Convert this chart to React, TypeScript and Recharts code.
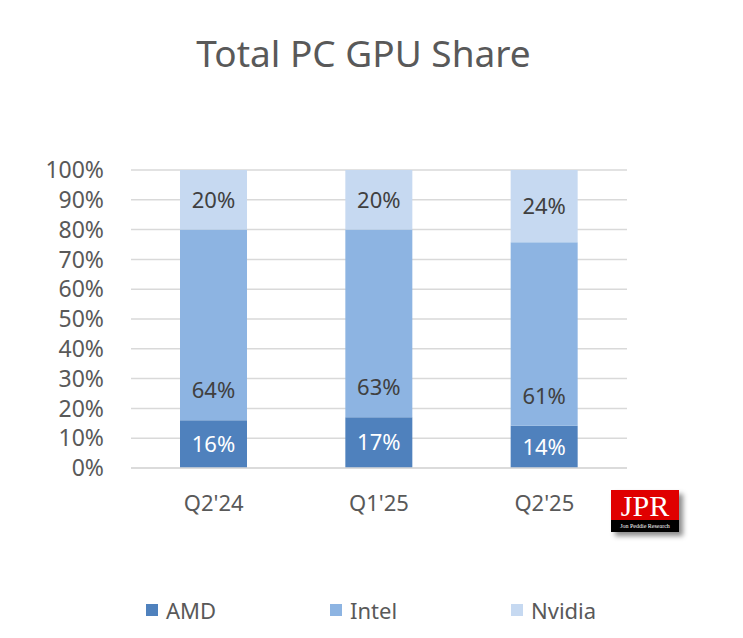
import { BarChart, Bar, XAxis, YAxis, CartesianGrid, Legend, LabelList } from "recharts"

const quarters = ["Q2'24", "Q1'25", "Q2'25"]
const amd = [16, 17, 14]
const intel = [64, 63, 61]
const nvidia = [20, 20, 24]
const yTicks = [0, 0.1, 0.2, 0.3, 0.4, 0.5, 0.6, 0.7, 0.8, 0.9, 1]

const series = [
  { key: "amd", name: "AMD", color: "#4F81BD" },
  { key: "intel", name: "Intel", color: "#8DB4E2" },
  { key: "nvidia", name: "Nvidia", color: "#C6D9F1" },
]

const data = quarters.map((q, i) => ({ quarter: q, amd: amd[i], intel: intel[i], nvidia: nvidia[i] }))

const font = "'Noto Sans', sans-serif"

const centerLabel = (fill: string) => (props: any) => {
  const { x, y, width, height, value } = props
  return (
    <text x={x + width / 2} y={y + height / 2} dy="0.355em" textAnchor="middle" fill={fill} fontSize={22} fontFamily={font}>
      {value}%
    </text>
  )
}

const baseLabel = (props: any) => {
  const { x, y, width, height, value } = props
  return (
    <text x={x + width / 2} y={y + height - 30} dy="0.355em" textAnchor="middle" fill="#404040" fontSize={22} fontFamily={font}>
      {value}%
    </text>
  )
}

const legendLeft = [146, 330, 511]

const LegendContent = () => (
  <div style={{ position: "relative", width: 743, height: 30, fontFamily: font, fontSize: 22, color: "#595959" }}>
    {series.map((s, i) => (
      <div key={s.key} style={{ position: "absolute", left: legendLeft[i], top: 0, height: 30, display: "flex", alignItems: "center" }}>
        <span style={{ width: 12, height: 12, background: s.color, display: "inline-block", marginRight: 8 }} />
        <span>{s.name}</span>
      </div>
    ))}
  </div>
)

export default function App() {
  return (
    <div style={{ position: "absolute", left: 0, top: 0, width: 743, height: 638, background: "#fff" }}>
      <div style={{ position: "absolute", left: 0, top: 27, width: 727, textAlign: "center", fontFamily: font, fontSize: 37, color: "#595959" }}>
        Total PC GPU Share
      </div>
      <BarChart
        width={743}
        height={638}
        data={data}
        stackOffset="expand"
        barSize={67}
        margin={{ top: 170, right: 116, bottom: 13, left: 0 }}
      >
        <CartesianGrid vertical={false} stroke="#D9D9D9" strokeWidth={1.5} />
        <XAxis
          dataKey="quarter"
          axisLine={{ stroke: "#D9D9D9", strokeWidth: 1.5 }}
          tickLine={false}
          tickSize={0}
          tickMargin={27}
          height={127}
          tick={{ fill: "#595959", fontSize: 22, fontFamily: font }}
        />
        <YAxis
          width={131}
          ticks={yTicks}
          domain={[0, 1]}
          axisLine={false}
          tickLine={false}
          tickSize={0}
          tickMargin={27}
          interval={0}
          tickFormatter={(v: number) => `${Math.round(v * 100)}%`}
          tick={{ fill: "#595959", fontSize: 23, fontFamily: font }}
        />
        <Legend verticalAlign="bottom" height={30} content={() => <LegendContent />} />
        <Bar dataKey="amd" name="AMD" stackId="a" fill="#4F81BD" isAnimationActive={false}>
          <LabelList dataKey="amd" content={centerLabel("#FFFFFF")} />
        </Bar>
        <Bar dataKey="intel" name="Intel" stackId="a" fill="#8DB4E2" isAnimationActive={false}>
          <LabelList dataKey="intel" content={baseLabel} />
        </Bar>
        <Bar dataKey="nvidia" name="Nvidia" stackId="a" fill="#C6D9F1" isAnimationActive={false}>
          <LabelList dataKey="nvidia" content={centerLabel("#404040")} />
        </Bar>
      </BarChart>
      <div
        style={{
          position: "absolute",
          left: 611,
          top: 490,
          width: 68,
          height: 42,
          boxShadow: "4px 4px 5px rgba(0,0,0,0.45)",
          fontFamily: "'Liberation Serif', serif",
        }}
      >
        <div style={{ height: 30, background: "#E00000", color: "#fff", fontSize: 30, lineHeight: "32px", textAlign: "center" }}>
          JPR
        </div>
        <div style={{ height: 12, background: "#000", color: "#fff", fontSize: 6, lineHeight: "12px", textAlign: "center", whiteSpace: "nowrap" }}>
          Jon Peddie Research
        </div>
      </div>
    </div>
  )
}
